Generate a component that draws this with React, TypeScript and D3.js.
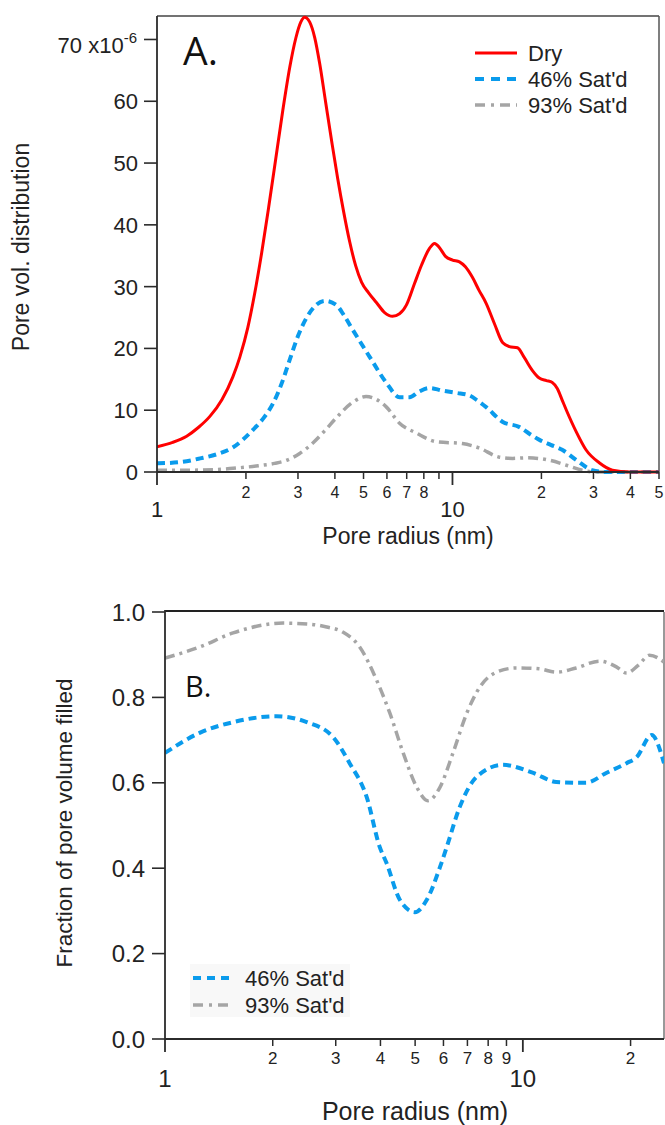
import React from 'react';
import * as d3 from 'd3';

// ---------- Panel A data (pore volume distribution, x10^-6) ----------
const dryRadius = [1.0, 1.13, 1.26, 1.38, 1.51, 1.658, 1.806, 1.907, 2.03, 2.143, 2.263, 2.39, 2.523, 2.665, 2.814, 2.949, 3.066, 3.16, 3.288, 3.418, 3.553, 3.723, 3.902, 4.088, 4.283, 4.487, 4.702, 4.927, 5.202, 5.537, 5.892, 6.27, 6.62, 6.98, 7.44, 7.86, 8.36, 8.7, 9.04, 9.47, 10.0, 10.56, 11.06, 11.68, 12.3, 13.0, 13.87, 14.8, 15.58, 16.6, 17.51, 18.6, 19.67, 20.8, 21.77, 22.63, 23.53, 24.3, 26.24, 28.3, 31.38, 34.8, 39.6, 50.0];
const dryValue = [4.1, 4.8, 5.8, 7.2, 9.0, 11.7, 15.4, 18.6, 23.4, 29.0, 35.6, 43.0, 50.7, 58.5, 65.5, 70.2, 72.8, 73.6, 72.8, 70.3, 66.1, 59.8, 53.5, 47.5, 42.1, 37.3, 33.4, 30.7, 29.0, 27.4, 25.8, 25.2, 25.6, 27.0, 30.5, 33.5, 36.2, 37.0, 36.3, 34.9, 34.3, 34.0, 33.2, 31.5, 29.4, 27.3, 24.0, 20.9, 20.3, 20.1, 18.5, 16.5, 15.2, 14.8, 14.5, 13.5, 11.6, 10.0, 6.5, 3.6, 1.5, 0.3, 0.0, 0.0];

const sat46Radius = [1.0, 1.2, 1.4, 1.6, 1.81, 2.11, 2.3, 2.47, 2.65, 2.81, 3.0, 3.21, 3.45, 3.7, 4.05, 4.3, 4.6, 5.25, 5.98, 6.62, 7.16, 7.7, 8.36, 9.2, 10.3, 11.4, 12.2, 13.0, 14.8, 16.8, 18.2, 19.7, 21.5, 23.5, 26.3, 29.7, 33.0, 50.0];
const sat46Value = [1.4, 1.6, 2.2, 2.9, 4.0, 6.8, 8.8, 11.1, 14.5, 18.1, 22.0, 25.0, 27.0, 27.7, 27.0, 25.3, 23.0, 18.6, 14.4, 12.1, 12.1, 13.0, 13.6, 13.2, 12.8, 12.4, 11.5, 10.5, 8.1, 7.3, 6.2, 5.2, 4.4, 3.6, 1.9, 0.3, 0.0, 0.0];

const sat93Radius = [1.0, 1.3, 1.6, 1.81, 2.2, 2.5, 2.75, 3.04, 3.37, 3.7, 4.05, 4.6, 5.1, 5.5, 5.98, 6.62, 7.55, 8.82, 10.8, 12.3, 14.4, 16.0, 17.8, 21.3, 24.3, 27.5, 30.0, 50.0];
const sat93Value = [0.3, 0.3, 0.4, 0.6, 1.0, 1.4, 1.9, 3.0, 4.7, 6.7, 8.8, 11.3, 12.2, 11.8, 10.5, 7.9, 6.3, 4.9, 4.6, 3.9, 2.4, 2.2, 2.3, 1.9, 1.1, 0.3, 0.0, 0.0];

// ---------- Panel B data (fraction of pore volume filled) ----------
const fill46Radius = [1.0, 1.25, 1.55, 2.05, 2.49, 2.95, 3.28, 3.66, 3.98, 4.16, 4.53, 4.99, 5.39, 5.87, 6.13, 6.66, 7.43, 8.78, 10.7, 12.4, 15.0, 17.1, 19.5, 20.8, 22.9, 24.8];
const fill46Value = [0.670, 0.717, 0.742, 0.756, 0.742, 0.707, 0.646, 0.567, 0.450, 0.412, 0.326, 0.297, 0.326, 0.403, 0.450, 0.543, 0.614, 0.642, 0.623, 0.602, 0.600, 0.623, 0.646, 0.660, 0.712, 0.646];

const fill93Radius = [1.0, 1.25, 1.55, 2.14, 2.5, 2.83, 3.14, 3.5, 3.9, 4.25, 4.63, 5.05, 5.43, 5.87, 6.38, 6.97, 7.58, 8.44, 9.6, 11.1, 12.4, 14.1, 16.4, 18.3, 19.5, 21.0, 22.6, 24.8];
const fill93Value = [0.892, 0.918, 0.951, 0.974, 0.972, 0.965, 0.953, 0.918, 0.841, 0.763, 0.670, 0.590, 0.558, 0.590, 0.670, 0.763, 0.824, 0.859, 0.869, 0.867, 0.859, 0.869, 0.885, 0.871, 0.857, 0.875, 0.899, 0.883];

// ---------- ticks / labels ----------
const yTicksA = [0, 10, 20, 30, 40, 50, 60, 70];
const yTicksB = [0, 0.2, 0.4, 0.6, 0.8, 1.0];
const majorTicksA = [1, 10];
const minorTicksA = [2, 3, 4, 5, 6, 7, 8, 9, 20, 30, 40, 50];
const minorLabelsA = ['2', '3', '4', '5', '6', '7', '8', '', '2', '3', '4', '5'];
const majorTicksB = [1, 10];
const minorTicksB = [2, 3, 4, 5, 6, 7, 8, 9, 20];
const minorLabelsB = ['2', '3', '4', '5', '6', '7', '8', '9', '2'];
const legendA = ['Dry', "46% Sat'd", "93% Sat'd"];
const legendB = ["46% Sat'd", "93% Sat'd"];

const FONT = "'Liberation Sans', Arial, Helvetica, sans-serif";
const RED = '#ff0000';
const BLUE = '#0a9bec';
const GRAY = '#a5a5a5';
const AXIS = '#2b2b2b';

const styles = {
  dry: { stroke: RED, strokeWidth: 3, dash: undefined as string | undefined },
  s46: { stroke: BLUE, strokeWidth: 4, dash: '8,5' },
  s93: { stroke: GRAY, strokeWidth: 3.5, dash: '10,5,3,5' },
};

function zip(xs: number[], ys: number[]): [number, number][] {
  return xs.map((x, i) => [x, ys[i]]);
}

export default function App() {
  const xA = d3.scaleLog().domain([1, 50]).range([157, 659]);
  const yA = d3.scaleLinear().domain([0, 73.8]).range([472, 16]);
  const xB = d3.scaleLog().domain([1, 24.8]).range([165, 664]);
  const yB = d3.scaleLinear().domain([0, 1]).range([1039, 612]);

  const lineA = d3
    .line<[number, number]>()
    .x((d) => xA(d[0]))
    .y((d) => yA(d[1]))
    .curve(d3.curveMonotoneX);
  const lineB = d3
    .line<[number, number]>()
    .x((d) => xB(d[0]))
    .y((d) => yB(d[1]))
    .curve(d3.curveMonotoneX);

  const [aL, aR] = xA.range();
  const [aB, aT] = yA.range();
  const [bL, bR] = xB.range();
  const [bB, bT] = yB.range();

  return (
    <svg
      width={665}
      height={1125}
      style={{ position: 'absolute', left: 0, top: 0, background: '#fff' }}
      fontFamily={FONT}
    >
      <defs>
        <clipPath id="clipA">
          <rect x={aL} y={aT - 4} width={aR - aL} height={aB - aT + 6} />
        </clipPath>
        <clipPath id="clipB">
          <rect x={bL} y={bT} width={bR - bL} height={bB - bT} />
        </clipPath>
      </defs>

      {/* ================= Panel A ================= */}
      <g>
        <line x1={aL} x2={aR} y1={aT} y2={aT} stroke="#444" strokeWidth={1.5} />
        <line x1={aR} x2={aR} y1={aT} y2={aB} stroke="#555" strokeWidth={1.5} />
        <g clipPath="url(#clipA)" fill="none">
          <path d={lineA(zip(sat93Radius, sat93Value)) || ''} stroke={styles.s93.stroke} strokeWidth={styles.s93.strokeWidth} strokeDasharray={styles.s93.dash} />
          <path d={lineA(zip(sat46Radius, sat46Value)) || ''} stroke={styles.s46.stroke} strokeWidth={styles.s46.strokeWidth} strokeDasharray={styles.s46.dash} />
          <path d={lineA(zip(dryRadius, dryValue)) || ''} stroke={styles.dry.stroke} strokeWidth={styles.dry.strokeWidth} />
        </g>
        <line x1={aL} x2={aL} y1={aT} y2={aB} stroke={AXIS} strokeWidth={1.8} />
        <line x1={aL} x2={aR} y1={aB} y2={aB} stroke={AXIS} strokeWidth={1.8} />
        {yTicksA.map((t) => (
          <g key={'ya' + t}>
            <line x1={aL - 13} x2={aL} y1={yA(t)} y2={yA(t)} stroke={AXIS} strokeWidth={1.6} />
            {t === 70 ? (
              <text x={137} y={yA(t) + 14} textAnchor="end" fontSize={22} fill="#222">
                70 x10<tspan fontSize={15} dy={-10}>-6</tspan>
              </text>
            ) : (
              <text x={138} y={yA(t) + 8} textAnchor="end" fontSize={22} fill="#222">
                {t}
              </text>
            )}
          </g>
        ))}
        {majorTicksA.map((t) => (
          <g key={'mja' + t}>
            <line x1={xA(t)} x2={xA(t)} y1={aB} y2={aB + 13} stroke={AXIS} strokeWidth={1.8} />
            <text x={xA(t)} y={aB + 45} textAnchor="middle" fontSize={22} fill="#222">
              {t}
            </text>
          </g>
        ))}
        {minorTicksA.map((t, i) => (
          <g key={'mna' + t}>
            <line x1={xA(t)} x2={xA(t)} y1={aB} y2={aB + 7} stroke={AXIS} strokeWidth={1.5} />
            <text x={xA(t)} y={aB + 26} textAnchor="middle" fontSize={16} fill="#222">
              {minorLabelsA[i]}
            </text>
          </g>
        ))}
        <text x={408} y={544} textAnchor="middle" fontSize={23} fill="#222">
          Pore radius (nm)
        </text>
        <text transform="translate(29,247) rotate(-90)" textAnchor="middle" fontSize={23} fill="#222">
          Pore vol. distribution
        </text>
        <text x={183} y={65} fontSize={39} fontFamily="'Open Sans', sans-serif" fill="#111">
          A.
        </text>
        {legendA.map((name, i) => {
          const st = [styles.dry, styles.s46, styles.s93][i];
          const y = 53 + i * 26;
          return (
            <g key={'lga' + i}>
              <line x1={475} x2={517} y1={y} y2={y} stroke={st.stroke} strokeWidth={st.strokeWidth} strokeDasharray={st.dash ? (i === 1 ? '9,7' : '10,6,3,6') : undefined} />
              <text x={528} y={y + 8} fontSize={22} fill="#222">
                {name}
              </text>
            </g>
          );
        })}
      </g>

      {/* ================= Panel B ================= */}
      <g>
        <line x1={bL} x2={bR} y1={bT - 1} y2={bT - 1} stroke="#222" strokeWidth={2} />
        <line x1={bR} x2={bR} y1={bT} y2={bB} stroke="#777" strokeWidth={1.5} />
        <rect x={190} y={964} width={160} height={53} fill="#f8f8f8" />
        <g clipPath="url(#clipB)" fill="none">
          <path d={lineB(zip(fill93Radius, fill93Value)) || ''} stroke={styles.s93.stroke} strokeWidth={styles.s93.strokeWidth} strokeDasharray={styles.s93.dash} />
          <path d={lineB(zip(fill46Radius, fill46Value)) || ''} stroke={styles.s46.stroke} strokeWidth={styles.s46.strokeWidth} strokeDasharray={styles.s46.dash} />
        </g>
        <line x1={bL} x2={bL} y1={bT - 2} y2={bB} stroke={AXIS} strokeWidth={1.8} />
        <line x1={bL} x2={bR} y1={bB} y2={bB} stroke={AXIS} strokeWidth={1.8} />
        {yTicksB.map((t) => (
          <g key={'yb' + t}>
            <line x1={bL - 13} x2={bL} y1={yB(t)} y2={yB(t)} stroke={AXIS} strokeWidth={1.6} />
            <text x={145} y={yB(t) + 8.5} textAnchor="end" fontSize={24} fill="#222">
              {t.toFixed(1)}
            </text>
          </g>
        ))}
        {majorTicksB.map((t) => (
          <g key={'mjb' + t}>
            <line x1={xB(t)} x2={xB(t)} y1={bB} y2={bB + 13} stroke={AXIS} strokeWidth={1.8} />
            <text x={xB(t)} y={bB + 48} textAnchor="middle" fontSize={24} fill="#222">
              {t}
            </text>
          </g>
        ))}
        {minorTicksB.map((t, i) => (
          <g key={'mnb' + t}>
            <line x1={xB(t)} x2={xB(t)} y1={bB} y2={bB + 7} stroke={AXIS} strokeWidth={1.5} />
            <text x={xB(t)} y={bB + 25} textAnchor="middle" fontSize={17} fill="#222">
              {minorLabelsB[i]}
            </text>
          </g>
        ))}
        <text x={415} y={1120} textAnchor="middle" fontSize={25} fill="#222">
          Pore radius (nm)
        </text>
        <text transform="translate(72,823) rotate(-90)" textAnchor="middle" fontSize={22.5} fill="#222">
          Fraction of pore volume filled
        </text>
        <text x={185} y={697} fontSize={29} fontFamily="'Open Sans', sans-serif" fill="#111">
          B.
        </text>
        {legendB.map((name, i) => {
          const st = [styles.s46, styles.s93][i];
          const y = 978 + i * 27;
          return (
            <g key={'lgb' + i}>
              <line x1={193} x2={230} y1={y} y2={y} stroke={st.stroke} strokeWidth={st.strokeWidth} strokeDasharray={i === 0 ? '8,6' : '10,6,3,6'} />
              <text x={245} y={y + 8} fontSize={22} fill="#222">
                {name}
              </text>
            </g>
          );
        })}
      </g>
    </svg>
  );
}
